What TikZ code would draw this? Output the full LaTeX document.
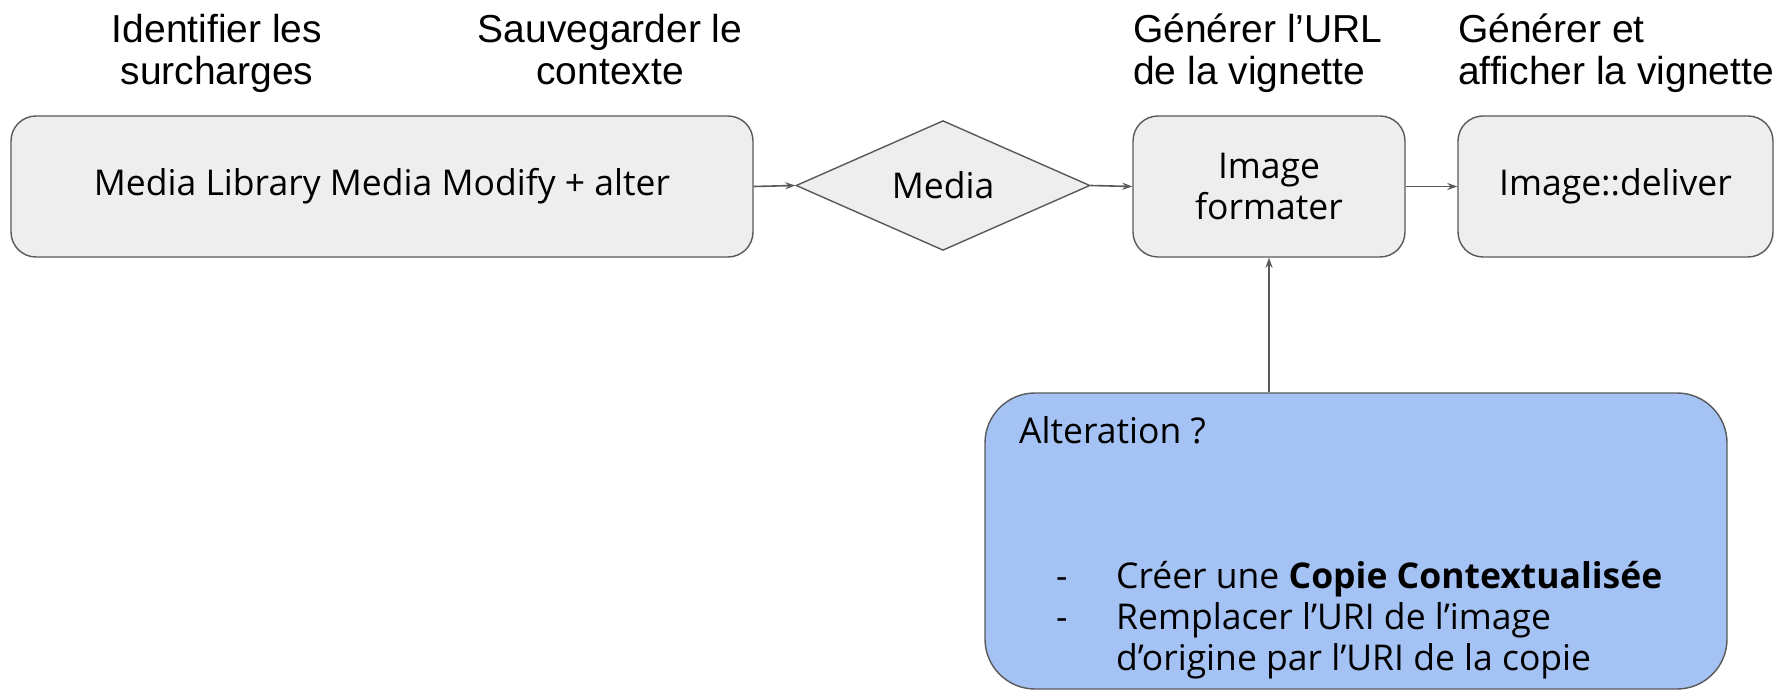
\documentclass[tikz,border=0pt]{standalone}
\usepackage{fontspec}
\setmainfont{Open Sans}
\newfontfamily\titlefont{Liberation Sans}
\usetikzlibrary{shapes.geometric,arrows.meta}
\definecolor{boxgray}{HTML}{EEEEEE}
\definecolor{linegray}{HTML}{595959}
\definecolor{bluefill}{HTML}{A4C2F4}
\newcommand\boxfs{\fontsize{35.5}{41}\selectfont}
\newcommand\titlefs{\titlefont\fontsize{39}{42}\selectfont}
\begin{document}
\begin{tikzpicture}[x=1pt,y=-1pt,
  procbox/.style={draw=linegray, fill=boxgray, rounded corners=25pt, line width=1.4pt,
    font=\boxfs, align=center, inner sep=0pt},
  decision/.style={draw=linegray, fill=boxgray, shape=diamond, line width=1.4pt,
    font=\boxfs, inner sep=0pt, minimum width=294pt, minimum height=129pt},
  altbox/.style={draw=linegray, fill=bluefill, rounded corners=50pt, line width=1.4pt,
    inner sep=0pt, minimum width=742pt, minimum height=296pt},
  title/.style={font=\titlefs, inner sep=0pt, anchor=north},
  bodytext/.style={font=\boxfs, inner sep=0pt, anchor=base west},
  flow/.style={draw=linegray, line width=1.6pt, -{Stealth[length=10pt,width=7pt]}}]
\useasboundingbox (0,0) rectangle (1776,692);

\node[procbox, minimum width=742pt, minimum height=141pt] (main) at (382,186.5) {Media Library Media Modify + alter};
\node[decision] (media) at (943,185.5) {Media};
\node[procbox, minimum width=272pt, minimum height=141pt] (fmt) at (1269,186.5) {Image\\formater};
\node[procbox, minimum width=315pt, minimum height=141pt] (deliver) at (1615.5,186.5) {Image::deliver};
\node[altbox] (alt) at (1356,541) {};

\node[bodytext] (altq) at (1019,443) {Alteration ?};
\node[bodytext] (d1) at (1056,588) {-};
\node[bodytext] (l1) at (1116,588) {Créer une \textbf{Copie Contextualisée}};
\node[bodytext] (d2) at (1056,629) {-};
\node[bodytext] (l2) at (1116,629) {Remplacer l’URI de l’image};
\node[bodytext] (l3) at (1116,670) {d’origine par l’URI de la copie};

\node[title, align=center] (t1) at (217,12.5) {\strut Identifier les\\surcharges};
\node[title, align=center] (t2) at (610,12.5) {\strut Sauvegarder le\\contexte};
\node[title, align=left, anchor=north west] (t3) at (1133,12.5) {\strut Générer l’URL\\de la vignette};
\node[title, align=left, anchor=north west] (t4) at (1458,12.5) {\strut Générer et\\afficher la vignette};

\draw[flow] (main.east) -- (media.west);
\draw[flow] (media.east) -- (fmt.west);
\draw[flow] (fmt.east) -- (deliver.west);
\draw[flow] (alt.north -| fmt.south) -- (fmt.south);
\end{tikzpicture}
\end{document}
